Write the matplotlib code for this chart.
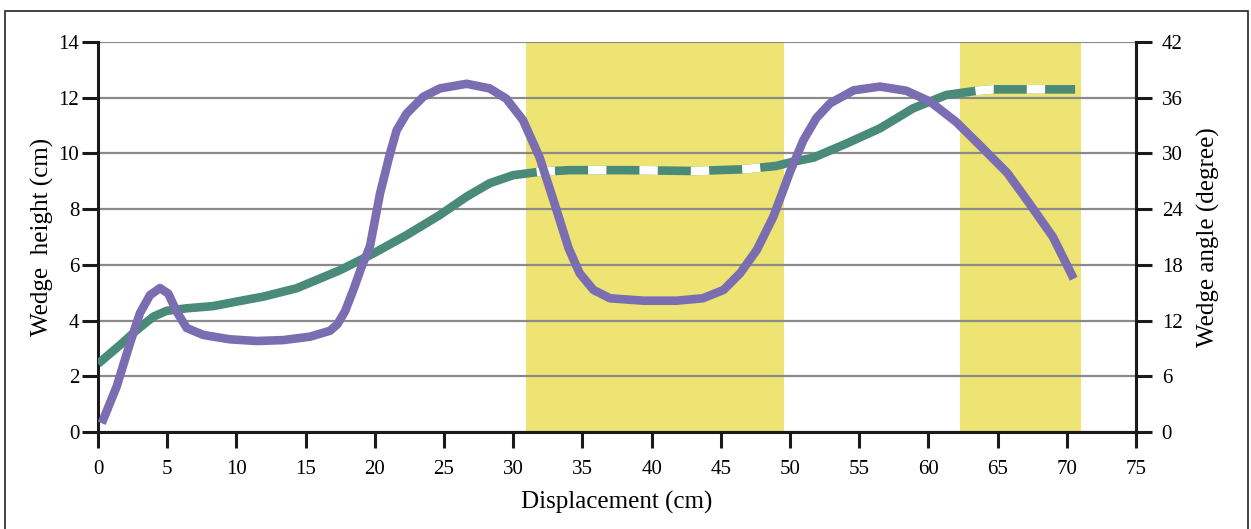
import matplotlib
matplotlib.use("Agg")
import matplotlib.pyplot as plt
import numpy as np
from matplotlib.patches import Rectangle

plt.rcParams["font.family"] = ["Liberation Serif", "DejaVu Serif"]
plt.rcParams["lines.scale_dashes"] = False

# wedge height (cm) against displacement (cm), left axis
height_x = [0, 1.59, 2.8, 4.0, 4.96, 6.41, 8.33, 10.0, 11.94, 14.35, 15.8,
            17.49, 19.9, 22.3, 24.7, 26.64, 28.3, 30.0, 31.9, 34.1, 38.2,
            43.0, 46.6, 49.0, 50.2, 51.7, 54.1, 56.5, 58.9, 61.3, 63.5,
            64.7, 70.6]
height_y = [2.45, 3.12, 3.66, 4.14, 4.35, 4.44, 4.52, 4.68, 4.86, 5.16,
            5.46, 5.81, 6.41, 7.07, 7.79, 8.45, 8.93, 9.22, 9.34, 9.40, 9.40,
            9.37, 9.43, 9.55, 9.70, 9.85, 10.36, 10.9, 11.62, 12.1, 12.25,
            12.3, 12.3]

# wedge angle (degree), right axis
angle_x = [0.27, 1.35, 2.31, 3.03, 3.76, 4.48, 5.08, 5.69, 6.41, 7.61, 9.54,
           11.47, 13.39, 15.3, 16.76, 17.3, 17.85, 18.45, 19.0, 19.65, 20.38,
           21.1, 21.58, 22.3, 23.5, 24.7, 26.64, 28.3, 29.5, 30.7, 31.9,
           32.9, 34.0, 34.8, 35.8, 37.0, 39.4, 41.8, 43.7, 45.2, 46.4, 47.6,
           48.8, 50.0, 50.96, 51.9, 52.9, 54.6, 56.5, 58.4, 60.1, 62.0, 63.7,
           65.7, 67.3, 69.0, 70.5]
angle_y = [0.94, 4.9, 9.55, 12.8, 14.75, 15.5, 14.9, 12.95, 11.2, 10.45,
           9.98, 9.8, 9.9, 10.26, 10.9, 11.6, 13.0, 15.3, 17.6, 20.0, 25.7,
           30.0, 32.5, 34.3, 36.1, 37.0, 37.5, 37.0, 35.9, 33.6, 29.6, 25.0,
           19.8, 17.1, 15.3, 14.4, 14.14, 14.14, 14.4, 15.3, 17.1, 19.6, 23.2,
           28.0, 31.4, 33.8, 35.4, 36.8, 37.2, 36.75, 35.6, 33.4, 30.9, 27.9,
           24.6, 21.0, 16.5]

# highlighted displacement ranges (cm)
bands = [(30.9, 49.6), (62.3, 71.0)]
# stretches of the height curve drawn dashed
dashed_ranges = [(31.7, 47.85), (63.4, 70.6)]

x_ticks = list(range(0, 80, 5))
left_ticks = list(range(0, 16, 2))
right_ticks = list(range(0, 48, 6))

GREEN = "#4a8a78"
PURPLE = "#7b6db2"
YELLOW = "#ede473"
GRID = "#8a8a8a"

fig = plt.figure(figsize=(12.51, 5.29), dpi=100)
ax = fig.add_axes([98 / 1251, 1 - 432 / 529, (1136 - 98) / 1251, 390 / 529])

for x0, x1 in bands:
    ax.axvspan(x0, x1, color=YELLOW, lw=0, zorder=0)
for t in left_ticks:
    ax.axhline(t, color=GRID, lw=1.6, zorder=1)

ax.plot(height_x, height_y, color=GREEN, lw=6.2, solid_capstyle="butt",
        solid_joinstyle="round", zorder=3)
for x0, x1 in dashed_ranges:
    seg_x = [x0] + [x for x in height_x if x0 < x < x1] + [x1]
    seg_y = np.interp(seg_x, height_x, height_y)
    ln, = ax.plot(seg_x, seg_y, color="white", lw=6.2, zorder=4,
                  dash_capstyle="butt", dash_joinstyle="round")
    ln.set_linestyle((0, (13.2, 23.8)))

ax.set_xlim(0, 75)
ax.set_ylim(0, 14)
ax.set_xticks(x_ticks)
ax.set_yticks(left_ticks)
ax.set_xlabel("Displacement (cm)", fontsize=18, labelpad=9)
ax.set_ylabel("Wedge  height (cm)", fontsize=18, labelpad=3)

ax2 = ax.twinx()
ax2.plot(angle_x, angle_y, color=PURPLE, lw=6.2, solid_capstyle="butt",
         solid_joinstyle="round", zorder=5)
ax2.set_ylim(0, 42)
ax2.set_yticks(right_ticks)
ax2.set_ylabel("Wedge angle (degree)", fontsize=18, labelpad=10)

for a in (ax, ax2):
    a.spines["top"].set_visible(False)
    for s in a.spines.values():
        s.set_linewidth(2.2)
        s.set_color("#1a1a1a")
    a.tick_params(length=11.5, width=2.2, color="#1a1a1a", labelsize=15, pad=2)
ax.tick_params(axis="x", pad=8.5)
ax2.tick_params(axis="y", pad=7)
ax.spines["right"].set_visible(False)
ax2.spines["left"].set_visible(False)
ax2.spines["bottom"].set_visible(False)

# frame around the whole figure
fig.patches.append(Rectangle((5 / 1251, -0.02), 1243 / 1251, 1 - 11 / 529 + 0.02,
                             transform=fig.transFigure, fill=False,
                             edgecolor="#222222", lw=1.2))

fig.savefig("out.png", dpi=100)
